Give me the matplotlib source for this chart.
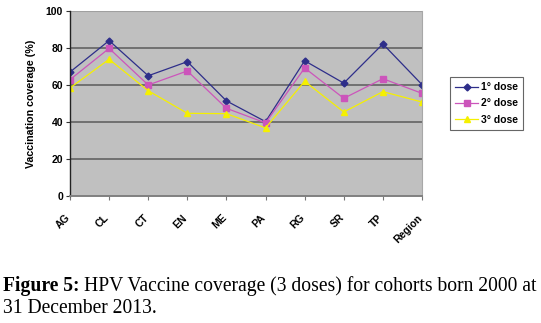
import matplotlib
matplotlib.use("Agg")
import matplotlib.pyplot as plt
from matplotlib.transforms import ScaledTranslation

areas = ["AG", "CL", "CT", "EN", "ME", "PA", "RG", "SR", "TP", "Region"]
dose1 = [67, 84, 65, 72.6, 51.4, 40.2, 73.1, 61, 82.2, 60.2]
dose2 = [62.9, 79.8, 60, 67.6, 47.4, 39.5, 69.2, 52.8, 63.4, 55.5]
dose3 = [58.4, 73.9, 56.9, 44.7, 44.5, 36.8, 62, 45.4, 56.4, 50.8]
series_names = ["1° dose", "2° dose", "3° dose"]
yticks = [0, 20, 40, 60, 80, 100]

W, H = 541, 323
fig = plt.figure(figsize=(W / 100, H / 100), dpi=100)
ax = fig.add_axes([70 / W, 1 - 196 / H, (422 - 70) / W, (196 - 11) / H])
ax.set_facecolor("#C0C0C0")

x = list(range(len(areas)))
ax.plot(x, dose1, color="#2E2E8A", marker="D", markersize=3.5, lw=0.9, label=series_names[0])
ax.plot(x, dose2, color="#CC55BB", marker="s", markersize=3.8, lw=0.9, label=series_names[1])
ax.plot(x, dose3, color="#F5F000", marker="^", markersize=4.5, lw=0.9, label=series_names[2])

ax.set_xlim(0, len(areas) - 1)
ax.set_ylim(0, 100)
ax.set_yticks(yticks)
ax.set_yticklabels([str(v) for v in yticks], fontsize=7.5, fontweight="bold", family="Liberation Sans")
ax.set_xticks(x)
ax.set_xticklabels(areas, rotation=45, ha="right", va="top", rotation_mode="anchor",
                   fontsize=7.5, fontweight="bold", family="Liberation Sans")
ax.tick_params(axis="both", length=3, width=0.8, color="#333333", pad=2)
ax.tick_params(axis="x", color="#777777", pad=9)
shift = ScaledTranslation(-5 / 100, 0, fig.dpi_scale_trans)
for t in ax.get_xticklabels():
    t.set_transform(t.get_transform() + shift)

for v in yticks[1:-1]:
    ax.axhline(v, color="#707070", lw=1.4, zorder=0.5)

ax.spines["top"].set_visible(False)
ax.spines["left"].set_color("#222222")
ax.spines["left"].set_linewidth(1.0)
ax.spines["bottom"].set_color("#808080")
ax.spines["bottom"].set_linewidth(1.4)
ax.spines["right"].set_color("#A8A8A8")
ax.spines["right"].set_linewidth(0.8)
ax.axhline(100, color="#A0A0A0", lw=0.8)

ax.set_ylabel("Vaccination coverage (%)", fontsize=7.7, fontweight="bold", family="Liberation Sans", labelpad=7)

leg = fig.legend(loc="upper left", bbox_to_anchor=(450 / W, 1 - 77 / H), frameon=True, borderaxespad=0,
                 fancybox=False, edgecolor="#404040", prop={"family": "Liberation Sans", "weight": "bold", "size": 7.5},
                 handlelength=2.2, borderpad=0.5, labelspacing=0.6, handletextpad=0.25)
leg.get_frame().set_linewidth(0.8)

# Caption: size the first line so it runs the full width of the figure
fs = 12
renderer = fig.canvas.get_renderer()
lab = fig.text(3 / W, 1 - 291 / H, "Figure 5:", fontsize=fs, fontweight="bold", family="Liberation Serif", va="baseline")
rest = fig.text(0, 1 - 291 / H, "HPV Vaccine coverage (3 doses) for cohorts born 2000 at",
                fontsize=fs, family="Liberation Serif", va="baseline")
w_lab = lab.get_window_extent(renderer).width
w_rest = rest.get_window_extent(renderer).width
scale = (535 - 3 - 5) / (w_lab + w_rest)
fs *= scale
lab.set_fontsize(fs)
rest.set_fontsize(fs)
w_lab = lab.get_window_extent(renderer).width
rest.set_x((3 + w_lab + 5) / W)
fig.text(3 / W, 1 - 313 / H, "31 December 2013.", fontsize=fs, family="Liberation Serif", va="baseline")

fig.savefig("out.png", dpi=100)
